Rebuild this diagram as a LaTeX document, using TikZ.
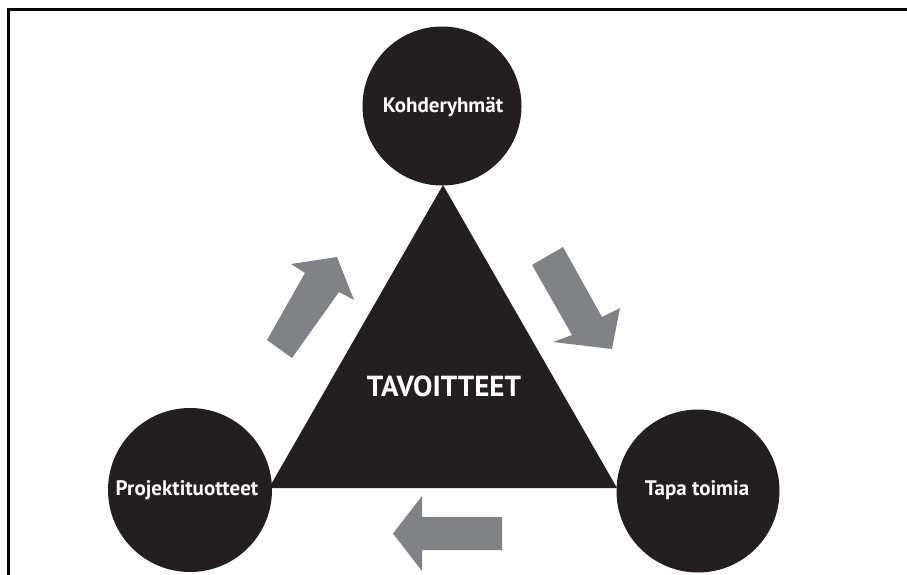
\documentclass[tikz,border=0pt]{standalone}
\usepackage{fontspec}
\setmainfont{PT Sans}
\definecolor{inkblack}{HTML}{231F20}
\definecolor{arrowgrey}{HTML}{808285}
\begin{document}
\begin{tikzpicture}[x=1pt,y=-1pt,
  disc/.style={circle,fill=inkblack,inner sep=0pt,minimum size=#1},
  disclabel/.style={text=white,font=\bfseries\fontsize{21}{24}\selectfont},
  flow/.style={fill=arrowgrey,draw=none},
  frameline/.style={line width=3pt,draw=black,line cap=butt}]
\useasboundingbox (0,0) rectangle (907,575);

% open frame: top and left edges
\coordinate (fTL) at (8,9.5);
\coordinate (fTR) at (907,9.5);
\coordinate (fBL) at (8,575);
\draw[frameline] (fTR) -- (fTL) -- (fBL);

% central triangle
\coordinate (apex) at (443,185);
\coordinate (baseL) at (269,488);
\coordinate (baseR) at (617,488);
\fill[inkblack] (apex) -- (baseR) -- (baseL) -- cycle;
\node[text=white,font=\bfseries\fontsize{29}{33}\selectfont] (goal) at (444,386) {TAVOITTEET};

% corner discs
\node[disc=159pt] (top) at (442,106) {};
\node[disc=164pt] (left) at (190,490) {};
\node[disc=163pt] (right) at (698,491) {};
\node[disclabel] (topL) at (443,107) {Kohderyhmät};
\node[disclabel] (leftL) at (187,490) {Projektituotteet};
\node[disclabel] (rightL) at (697,490) {Tapa toimia};

% grey flow arrows
\fill[flow] (267,340) -- (305,273) -- (291,264) -- (337,257) -- (354,300) -- (339,292) -- (292,358) -- cycle;
\fill[flow] (532,265) -- (563,247) -- (602,317) -- (620,308) -- (612,349) -- (553,342) -- (572,335) -- cycle;
\fill[flow] (502,517) -- (422,517) -- (422,496) -- (393,533.5) -- (422,571) -- (422,550) -- (502,550) -- cycle;
\end{tikzpicture}
\end{document}
